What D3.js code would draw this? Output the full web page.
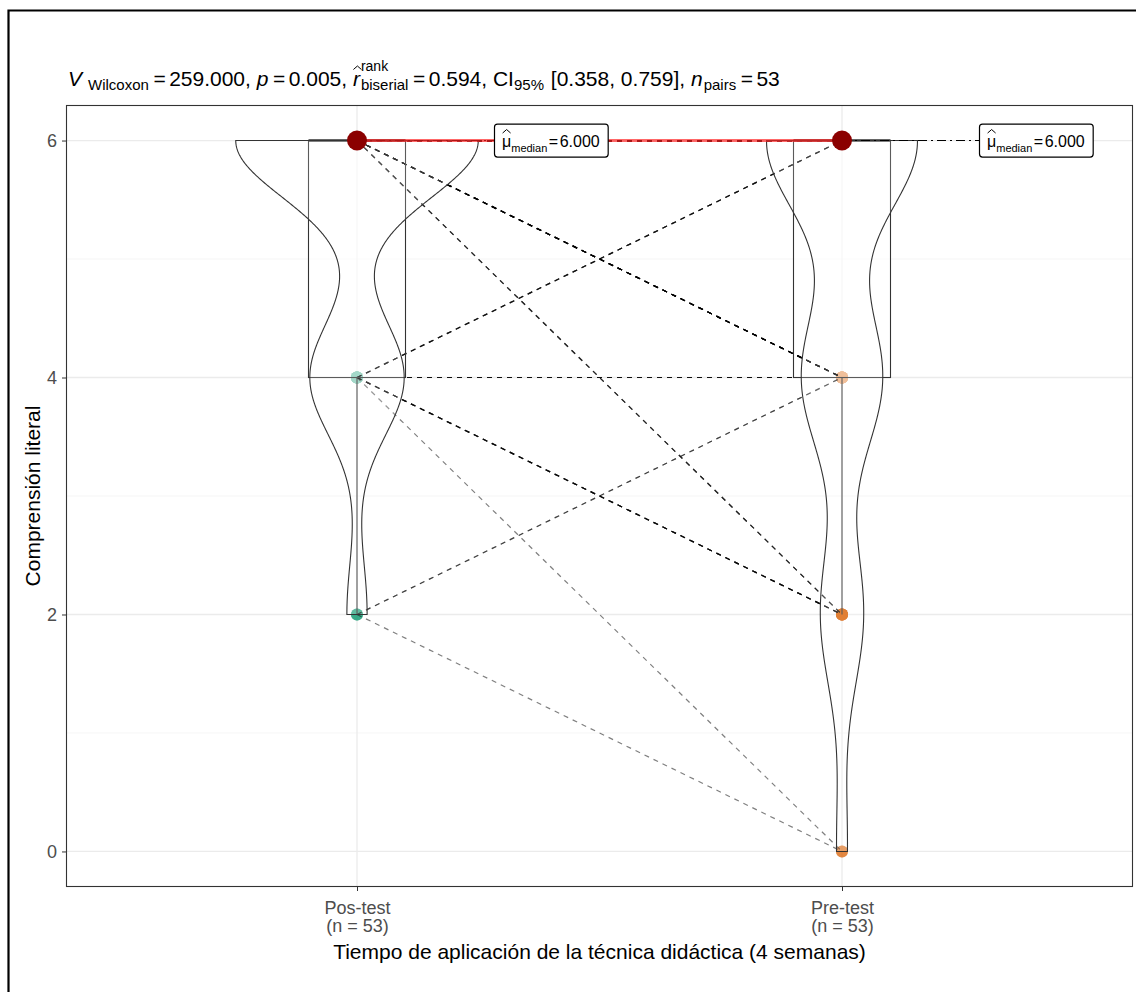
<!DOCTYPE html>
<html>
<head>
<meta charset="utf-8">
<script src="https://cdn.jsdelivr.net/npm/d3@7"></script>
<style>
  body { margin: 0; background: #fff; }
  svg { display: block; }
  text { font-family: "Liberation Sans", Arial, Helvetica, sans-serif; }
</style>
</head>
<body>
<svg id="chart" width="1136" height="992"></svg>
<script>
// ---- data -------------------------------------------------------------
const groups = ["Pos-test", "Pre-test"];
const groupColors = ["#1B9E77", "#D95F02"];
// paired scores: value at Pos-test, value at Pre-test, number of students with that pair
const pairPos   = [6, 6, 6, 4, 4, 4, 4, 2, 2];
const pairPre   = [6, 4, 2, 6, 4, 2, 0, 4, 0];
const pairCount = [24, 9, 3, 4, 4, 5, 1, 2, 1];
const yTicks = [0, 2, 4, 6];
const yMinor = [1, 3, 5];
// Wilcoxon signed-rank summary
const statV = "259.000", statP = "0.005", statR = "0.594";
const statCI = ["0.358", "0.759"], statN = "53";

// expand pairs into individual rows
const pairs = [];
pairPos.forEach((p, i) => d3.range(pairCount[i]).forEach(() => pairs.push({pos: p, pre: pairPre[i]})));
const byGroup = [pairs.map(d => d.pos), pairs.map(d => d.pre)];

// ---- layout -----------------------------------------------------------
const svg = d3.select("#chart");
const panel = {left: 66, right: 1133, top: 105, bottom: 887};
const x = d3.scalePoint().domain(groups).range([panel.left, panel.right]).padding(0.6);
const step = x.step();
const y = d3.scaleLinear().domain([-0.3, 6.3]).range([panel.bottom, panel.top]);

// outer frame
svg.append("path").attr("d", "M8.5,992 V10.5 H1136")
  .attr("fill", "none").attr("stroke", "#000").attr("stroke-width", 2.2);

// panel background + grid
svg.append("rect").attr("x", panel.left).attr("y", panel.top)
  .attr("width", panel.right - panel.left).attr("height", panel.bottom - panel.top).attr("fill", "#fff");
const grid = svg.append("g");
grid.selectAll(".minor").data(yMinor).join("line")
  .attr("x1", panel.left).attr("x2", panel.right)
  .attr("y1", d => y(d)).attr("y2", d => y(d))
  .attr("stroke", "#F2F2F2").attr("stroke-width", 0.8);
grid.selectAll(".major").data(yTicks).join("line")
  .attr("x1", panel.left).attr("x2", panel.right)
  .attr("y1", d => y(d)).attr("y2", d => y(d))
  .attr("stroke", "#EBEBEB").attr("stroke-width", 1.3);
grid.selectAll(".vmajor").data(groups).join("line")
  .attr("x1", d => x(d)).attr("x2", d => x(d))
  .attr("y1", panel.top).attr("y2", panel.bottom)
  .attr("stroke", "#EBEBEB").attr("stroke-width", 1.3);

// ---- statistics per group ---------------------------------------------
function bwNrd0(v) {
  const sd = d3.deviation(v);
  const iqr = d3.quantile(v, 0.75) - d3.quantile(v, 0.25);
  return 0.9 * Math.min(sd, iqr / 1.34) * Math.pow(v.length, -0.2);
}
const stats = byGroup.map((vals, gi) => {
  const v = vals.slice().sort(d3.ascending);
  const bw = bwNrd0(v);
  const lo = d3.min(v), hi = d3.max(v);
  const grid = d3.range(512).map(i => lo + (hi - lo) * i / 511);
  const dens = grid.map(t => d3.sum(v, s => Math.exp(-0.5 * ((t - s) / bw) ** 2)) / (v.length * bw * Math.sqrt(2 * Math.PI)));
  const q1 = d3.quantile(v, 0.25), med = d3.median(v), q3 = d3.quantile(v, 0.75);
  const iqr = q3 - q1;
  const wLo = d3.min(v.filter(s => s >= q1 - 1.5 * iqr));
  const wHi = d3.max(v.filter(s => s <= q3 + 1.5 * iqr));
  return {group: groups[gi], values: v, grid, dens, q1, med, q3, wLo, wHi};
});
const maxDens = d3.max(stats, s => d3.max(s.dens));
const violinHalf = 0.25 * step;   // violin width 0.5
const boxHalf = 0.1 * step;       // box width 0.2

// ---- points (one per observation, semi-transparent) --------------------
const pts = svg.append("g");
stats.forEach((s, gi) => {
  pts.selectAll(null).data(s.values).join("circle")
    .attr("cx", x(s.group)).attr("cy", d => y(d)).attr("r", 6)
    .attr("fill", groupColors[gi]).attr("fill-opacity", 0.5);
});

// box bodies (semi-transparent white) wash out the points they cover
const boxes = svg.append("g");
stats.forEach(s => {
  const cx = x(s.group);
  boxes.append("rect")
    .attr("x", cx - boxHalf).attr("y", y(s.q3) - 7)
    .attr("width", 2 * boxHalf).attr("height", y(s.q1) - y(s.q3) + 14)
    .attr("fill", "#fff").attr("fill-opacity", 0.5);
});

// ---- paired paths -------------------------------------------------------
svg.append("g").selectAll("line").data(pairs).join("line")
  .attr("x1", x(groups[0])).attr("y1", d => y(d.pos))
  .attr("x2", x(groups[1])).attr("y2", d => y(d.pre))
  .attr("stroke", "#000").attr("stroke-opacity", 0.5)
  .attr("stroke-width", 1.2).attr("stroke-dasharray", "5 5");

// ---- box outlines ----------------------------------------------------------
stats.forEach(s => {
  const cx = x(s.group);
  const g = svg.append("g").attr("stroke", "#333").attr("fill", "none");
  g.append("line").attr("x1", cx).attr("x2", cx).attr("y1", y(s.q1)).attr("y2", y(s.wLo)).attr("stroke-width", 1.1);
  g.append("line").attr("x1", cx).attr("x2", cx).attr("y1", y(s.q3)).attr("y2", y(s.wHi)).attr("stroke-width", 1.1);
  g.append("rect").attr("x", cx - boxHalf).attr("y", y(s.q3))
    .attr("width", 2 * boxHalf).attr("height", y(s.q1) - y(s.q3)).attr("stroke-width", 1.1);
  g.append("line").attr("x1", cx - boxHalf).attr("x2", cx + boxHalf)
    .attr("y1", y(s.med)).attr("y2", y(s.med)).attr("stroke-width", 2.4);
});

// ---- violins ---------------------------------------------------------------
stats.forEach(s => {
  const cx = x(s.group);
  const rows = s.grid.map((t, i) => ({t, w: s.dens[i] / maxDens * violinHalf}));
  const area = d3.area()
    .y(d => y(d.t)).x0(d => cx - d.w).x1(d => cx + d.w);
  svg.append("path").attr("d", area(rows))
    .attr("fill", "#fff").attr("fill-opacity", 0.2)
    .attr("stroke", "#333").attr("stroke-width", 1.1);
});

// ---- centrality: medians, connecting line, labels ------------------------
const medians = stats.map(s => ({group: s.group, med: s.med}));
const labelOffset = 137;
medians.forEach(m => {
  svg.append("line")
    .attr("x1", x(m.group)).attr("x2", x(m.group) + labelOffset)
    .attr("y1", y(m.med)).attr("y2", y(m.med))
    .attr("stroke", "#000").attr("stroke-width", 1.1).attr("stroke-dasharray", "9 4 2 4");
});
svg.append("path")
  .attr("d", d3.line().x(d => x(d.group)).y(d => y(d.med))(medians))
  .attr("fill", "none").attr("stroke", "#FF2020").attr("stroke-opacity", 0.68).attr("stroke-width", 3);
svg.append("g").selectAll("circle").data(medians).join("circle")
  .attr("cx", d => x(d.group)).attr("cy", d => y(d.med)).attr("r", 10)
  .attr("fill", "darkred");

function hat(sel, cx, top, half) {
  sel.append("path")
    .attr("d", `M${cx - half},${top + 3.5} L${cx},${top} L${cx + half},${top + 3.5}`)
    .attr("fill", "none").attr("stroke", "#000").attr("stroke-width", 1);
}

medians.forEach(m => {
  const bx = x(m.group) + labelOffset, cy = y(m.med);
  const g = svg.append("g");
  const bg = g.append("rect");
  const t = g.append("text").attr("x", bx + 8).attr("y", cy + 6).attr("font-size", 16).attr("fill", "#000");
  const mu = t.append("tspan").text("μ");
  t.append("tspan").attr("font-size", 11).attr("dy", 5).text("median");
  t.append("tspan").attr("dy", -5).attr("dx", 1.5).text("=");
  t.append("tspan").attr("dx", 1.5).text(d3.format(".3f")(m.med));
  const muW = mu.node().getComputedTextLength();
  hat(g, bx + 8 + muW / 2, cy - 11, 4);
  const w = t.node().getComputedTextLength() + 19;
  bg.attr("x", bx + 0.5).attr("y", cy - 16.5).attr("width", w).attr("height", 33)
    .attr("rx", 3).attr("fill", "#fff").attr("stroke", "#000").attr("stroke-width", 1.2);
});

// ---- panel border & axes ----------------------------------------------------
svg.append("rect").attr("x", panel.left + 0.5).attr("y", panel.top + 0.5)
  .attr("width", panel.right - panel.left - 1).attr("height", panel.bottom - panel.top - 1)
  .attr("fill", "none").attr("stroke", "#333").attr("stroke-width", 1.1);

const yAxis = svg.append("g").attr("transform", `translate(${panel.left},0)`)
  .call(d3.axisLeft(y).tickValues(yTicks).tickSize(4).tickPadding(5).tickFormat(d3.format("d")));
yAxis.select(".domain").remove();
yAxis.selectAll("line").attr("stroke", "#333");
yAxis.selectAll("text").attr("font-size", 18).attr("fill", "#4D4D4D")
  .attr("font-family", "Liberation Sans, Arial, sans-serif");

const xAxis = svg.append("g").attr("transform", `translate(0,${panel.bottom})`)
  .call(d3.axisBottom(x).tickSize(4).tickFormat(""));
xAxis.select(".domain").remove();
xAxis.selectAll("line").attr("stroke", "#333");
xAxis.selectAll(".tick").each(function(d, i) {
  const t = d3.select(this).append("text").attr("text-anchor", "middle")
    .attr("font-size", 18).attr("fill", "#4D4D4D");
  t.append("tspan").attr("x", 0).attr("y", 27).text(d);
  t.append("tspan").attr("x", 0).attr("y", 45).text(`(n = ${byGroup[i].length})`);
});

svg.append("text").attr("x", (panel.left + panel.right) / 2).attr("y", 959)
  .attr("text-anchor", "middle").attr("font-size", 21).attr("fill", "#000")
  .text("Tiempo de aplicación de la técnica didáctica (4 semanas)");
svg.append("text")
  .attr("transform", `translate(40,${(panel.top + panel.bottom) / 2}) rotate(-90)`)
  .attr("text-anchor", "middle").attr("font-size", 21).attr("fill", "#000")
  .text("Comprensión literal");

// ---- subtitle with test results (built piece by piece) ---------------------
const M = 21, S = 15;
const eq = {eq: true};
const titleParts = [
  {t: "V", it: true}, {gap: 5}, {sub: "Wilcoxon"}, eq, {t: statV + ", "},
  {t: "p", it: true}, eq, {t: statP + ", "},
  {t: "r", it: true, hat: true}, {sup: "rank", sub: "biserial"}, eq, {t: statR + ", CI"},
  {sub: "95%"}, {t: ` [${statCI[0]}, ${statCI[1]}], `},
  {t: "n", it: true}, {sub: "pairs"}, eq, {t: statN}
];
const title = svg.append("g");
const base = 86;
let cx = 68;
titleParts.forEach(p => {
  if (p.gap) { cx += p.gap; return; }
  if (p.eq) {
    cx += 3.5;
    const el = title.append("text").attr("x", cx).attr("y", base).attr("font-size", M).attr("fill", "#000").text("=");
    cx += el.node().getComputedTextLength() + 3.5;
    return;
  }
  if (p.t !== undefined) {
    const el = title.append("text").attr("x", cx).attr("y", base).attr("font-size", M)
      .attr("font-style", p.it ? "italic" : null).attr("fill", "#000")
      .style("white-space", "pre").text(p.t);
    const w = el.node().getComputedTextLength();
    if (p.hat) hat(title, cx + w / 2 + 1, base - 20, 4);
    cx += w + (p.it ? 1 : 0);
  } else {
    let w = 0;
    if (p.sup) {
      const e = title.append("text").attr("x", cx).attr("y", base - 15).attr("font-size", S - 1)
        .attr("fill", "#000").text(p.sup);
      w = Math.max(w, e.node().getComputedTextLength());
    }
    const e2 = title.append("text").attr("x", cx).attr("y", base + 4).attr("font-size", S)
      .attr("fill", "#000").text(p.sub);
    w = Math.max(w, e2.node().getComputedTextLength());
    cx += w + 1;
  }
});
</script>
</body>
</html>
